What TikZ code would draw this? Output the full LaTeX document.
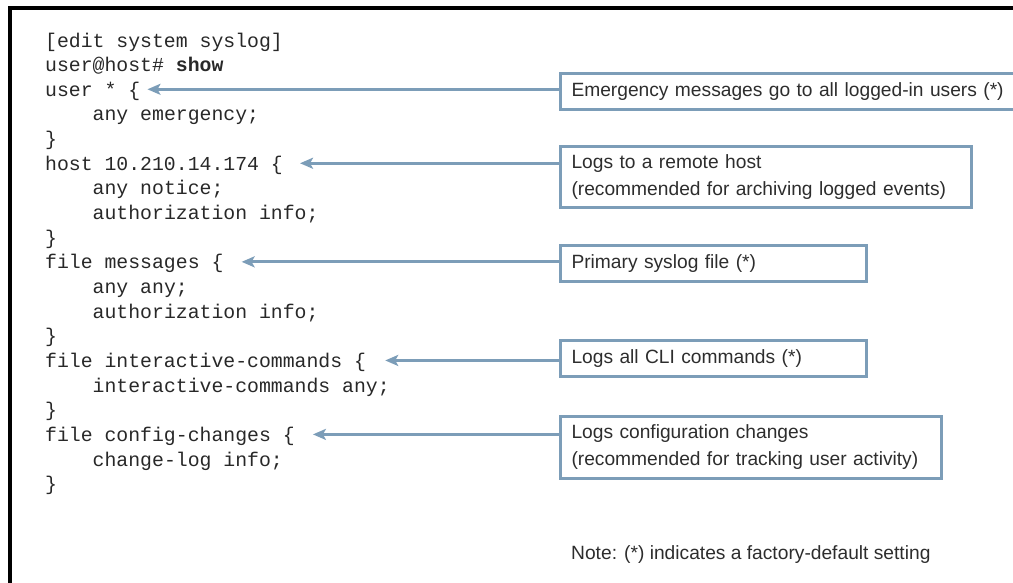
\documentclass[tikz,border=0pt]{standalone}
\usepackage{fontspec}
\setmonofont{Liberation Mono}
\setsansfont{Liberation Sans}
\usetikzlibrary{arrows.meta}
\definecolor{callblue}{RGB}{124,157,184}
\definecolor{codeink}{RGB}{40,40,40}
\definecolor{noteink}{RGB}{45,45,45}
\tikzset{
  code/.style={anchor=base west, inner sep=0pt, text=codeink,
    font=\ttfamily\fontsize{19.8}{22}\selectfont},
  callout/.style={draw=callblue, line width=3pt, anchor=north west,
    inner xsep=11pt, inner ysep=0pt, align=left, text=noteink,
    font=\sffamily\fontsize{19.2}{27}\selectfont},
  conn/.style={draw=callblue, line width=3pt,
    -{Stealth[length=13pt,width=11pt,inset=3pt]}},
}
\begin{document}
\begin{tikzpicture}[x=1pt,y=-1pt]
\useasboundingbox (0,0) rectangle (1013,582);
% frame
\draw[line width=3.5pt] (10,583) -- (10,8) -- (1014,8);

% configuration listing
\def\lh{24.65}
\foreach \t [count=\i] in {
  {[edit system syslog]},
  {user@host\# \textbf{show}},
  {user * \{},
  {\ \ \ \ any emergency;},
  {\}},
  {host 10.210.14.174 \{},
  {\ \ \ \ any notice;},
  {\ \ \ \ authorization info;},
  {\}},
  {file messages \{},
  {\ \ \ \ any any;},
  {\ \ \ \ authorization info;},
  {\}},
  {file interactive-commands \{},
  {\ \ \ \ interactive-commands any;},
  {\}},
  {file config-changes \{},
  {\ \ \ \ change-log info;},
  {\}}}
  \node[code] (l\i) at (45,{47+(\i-1)*\lh}) {\t};

% callouts
\node[callout, minimum width=458pt, minimum height=36pt, text width=436pt] (b1) at (559,72)
  {Emergency messages go to all logged-in users (*)};
\node[callout, minimum width=411pt, minimum height=61pt, text width=389pt] (b2) at (559,145)
  {Logs to a remote host\\(recommended for archiving logged events)};
\node[callout, minimum width=306pt, minimum height=36pt, text width=284pt] (b3) at (559,244)
  {Primary syslog file (*)};
\node[callout, minimum width=306pt, minimum height=36pt, text width=284pt] (b4) at (559,339)
  {Logs all CLI commands (*)};
\node[callout, minimum width=381pt, minimum height=62pt, text width=359pt] (b5) at (559,415)
  {Logs configuration changes\\(recommended for tracking user activity)};

% connectors from each callout to its statement
\coordinate (t1) at ([xshift=7pt,yshift=7pt]l3.base east);
\coordinate (t2) at ([xshift=17pt,yshift=7pt]l6.base east);
\coordinate (t3) at ([xshift=18pt,yshift=7pt]l10.base east);
\coordinate (t4) at ([xshift=19pt,yshift=7pt]l14.base east);
\coordinate (t5) at ([xshift=18pt,yshift=7pt]l17.base east);
\draw[conn] (b1.west |- t1) -- (t1);
\draw[conn] (b2.west |- t2) -- (t2);
\draw[conn] (b3.west |- t3) -- (t3);
\draw[conn] (b4.west |- t4) -- (t4);
\draw[conn] (b5.west |- t5) -- (t5);

% footnote
\node[anchor=base west, inner sep=0pt, text=noteink,
  font=\sffamily\fontsize{19.2}{22}\selectfont] (note) at (571,559)
  {Note: (*) indicates a factory-default setting};
\end{tikzpicture}
\end{document}
